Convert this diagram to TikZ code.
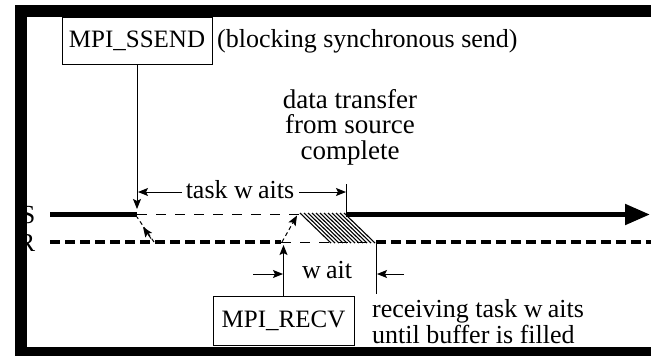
\documentclass[tikz,border=0pt]{standalone}
\usepackage{fontspec}
\setmainfont{Liberation Serif}
\usetikzlibrary{arrows.meta}
\tikzset{
  txt/.style={font=\fontsize{26}{28}\selectfont, inner sep=0pt},
  bigtxt/.style={font=\fontsize{27}{23}\selectfont, inner sep=0pt, anchor=base},
  callbox/.style={draw, line width=1pt, font=\fontsize{25}{28}\selectfont, inner sep=0pt},
  fine/.style={line width=1pt},
  smalltip/.style={-{Stealth[length=10pt,width=8pt,inset=2pt]}},
  sendline/.style={line width=5pt},
  recvline/.style={line width=4pt, dash pattern=on 10pt off 5pt},
  idleline/.style={line width=1pt, dash pattern=on 10pt off 9pt},
  handshake/.style={line width=1pt, dash pattern=on 4pt off 3pt},
  hatch/.style={line width=1.1pt},
  frame/.style={fill=black}
}
\newcommand{\gapw}{w\kern.2em }
\begin{document}
\begin{tikzpicture}[x=1pt,y=-1pt]
\useasboundingbox (0,0) rectangle (651,357);

% time lines of sender (S) and receiver (R)
\node[txt, anchor=base east] (slabel) at (35.5,223) {S};
\node[txt, anchor=base east] (rlabel) at (35.5,251) {R};

\coordinate (sL) at (50,214.5);
\coordinate (sW) at (137,214.5);
\coordinate (sH) at (300,214.5);
\coordinate (sE) at (346,214.5);
\coordinate (sT) at (650,214.5);
\coordinate (rL) at (50,242);
\coordinate (rA) at (281,242);
\coordinate (rB) at (376,242);
\coordinate (rT) at (651,242);

\draw[sendline] (sL) -- (sW);
\draw[idleline] (sW) -- (sH);
\draw[sendline, -{Triangle[length=25pt,width=20pt]}] (sE) -- (sT);

\draw[recvline] (rL) -- (rA);
\draw[idleline] (rA) -- (rB);
\draw[recvline] (rB) -- (rT);

% data transfer region
\foreach \t in {0,4,...,44}
  \draw[hatch] (300+\t,213) -- (331+\t,243);

% handshake between the two tasks
\coordinate (h1s) at (137,217);
\coordinate (h1r) at (154,242);
\draw[handshake] (h1r) -- (h1s);
\draw[fine, smalltip] (151,238.5) -- (143,227);
\coordinate (h2r) at (282,242);
\coordinate (h2s) at (297,215.5);
\draw[handshake, smalltip] (h2r) -- (h2s);

% MPI_SSEND call
\node[callbox, minimum width=150pt, minimum height=47pt] (ssend) at (137,40.5) {MPI\_SSEND};
\node[txt, anchor=base west] (ssendnote) at (217,47) {(blocking synchronous send)};
\coordinate (ssendhit) at (137,209);
\draw[fine, smalltip] (ssend.south) -- (ssendhit);

% data transfer label
\node[bigtxt] (dt) at (350,108)
  {\begin{tabular}[t]{@{}c@{}}data transfer\\from source\\complete\end{tabular}};

% task waits interval
\node[txt, anchor=base] (tw) at (240,198) {task \gapw aits};
\coordinate (twa) at (182,192);
\coordinate (twL) at (138,192);
\coordinate (twb) at (299,192);
\coordinate (twR) at (346,192);
\draw[fine, smalltip] (twa) -- (twL);
\draw[fine, smalltip] (twb) -- (twR);
\coordinate (twtop) at (346,184);
\coordinate (twbot) at (346,212);
\draw[fine] (twtop) -- (twbot);

% MPI_RECV call
\node[callbox, minimum width=141pt, minimum height=49pt] (recv) at (283.5,320.5) {MPI\_RECV};
\coordinate (recvhit) at (283.5,245);
\draw[fine, smalltip] (recv.north) -- (recvhit);

% wait interval
\node[txt, anchor=base west] (wt) at (302,278) {\gapw ait};
\coordinate (wa) at (253,274);
\coordinate (wL) at (283,274);
\draw[fine, smalltip] (wa) -- (wL);
\coordinate (wtop) at (376.5,244);
\coordinate (wbot) at (376.5,294);
\draw[fine] (wtop) -- (wbot);
\coordinate (wb) at (404,274);
\coordinate (wR) at (377,274);
\draw[fine, smalltip] (wb) -- (wR);

\node[txt, anchor=base west] (rn1) at (372,317) {receiving task \gapw aits};
\node[txt, anchor=base west] (rn2) at (372,343) {until buffer is filled};

% frame
\fill[frame] (15,5) rectangle (651,17);
\fill[frame] (15,5) rectangle (27,356);
\fill[frame] (15,347) rectangle (651,356);
\end{tikzpicture}
\end{document}
